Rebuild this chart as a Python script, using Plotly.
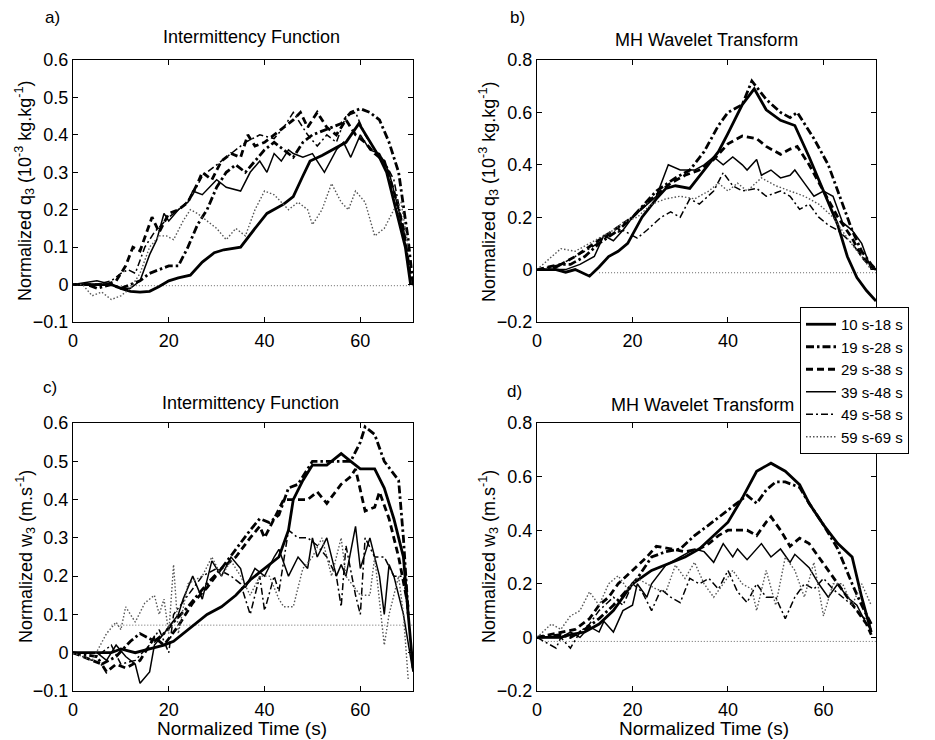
import plotly.graph_objects as go

# ---------------- data ----------------
SERIES_NAMES = ["10 s-18 s", "19 s-28 s", "29 s-38 s", "39 s-48 s", "49 s-58 s", "59 s-69 s"]

# Panel a) q3, Intermittency Function
A1_X = [0, 4, 8, 10, 12, 14, 16, 18, 20, 22, 24.5, 27, 29.5, 31.5, 35, 38, 40.5, 44, 46, 48, 49.5, 52, 55, 57, 59.7, 62, 64, 65.5, 67.5, 69.4, 70.5]
A1_Y = [0, 0, 0, -0.01, -0.018, -0.02, -0.018, -0.005, 0.01, 0.018, 0.025, 0.06, 0.085, 0.093, 0.1, 0.15, 0.19, 0.215, 0.235, 0.29, 0.33, 0.345, 0.365, 0.38, 0.43, 0.38, 0.34, 0.3, 0.2, 0.1, 0.0]
A2_X = [0, 3, 5, 8, 10, 12, 14, 16, 18, 20, 22, 24, 26, 28, 30, 32, 34, 36, 38, 40, 42, 44, 46, 48, 50, 52, 54, 56, 58, 60, 62, 64, 66, 68, 70, 71]
A2_Y = [0, 0, -0.01, 0, -0.01, 0, 0.01, 0.03, 0.04, 0.05, 0.05, 0.1, 0.16, 0.2, 0.26, 0.3, 0.32, 0.3, 0.33, 0.36, 0.38, 0.36, 0.34, 0.38, 0.4, 0.41, 0.42, 0.43, 0.46, 0.47, 0.46, 0.44, 0.38, 0.3, 0.12, 0.0]
A3_X = [0, 4, 7, 9, 11, 12.5, 14, 16.5, 18, 20, 22, 24, 26, 27, 29, 31, 33, 35, 36.5, 38, 40, 42, 44, 46, 47.5, 49, 51, 53, 55, 57, 59, 61, 63, 65, 67, 69, 70.5]
A3_Y = [0, 0, 0, 0.01, 0.05, 0.1, 0.09, 0.18, 0.14, 0.19, 0.2, 0.22, 0.27, 0.3, 0.28, 0.33, 0.35, 0.34, 0.4, 0.37, 0.38, 0.4, 0.42, 0.44, 0.46, 0.42, 0.46, 0.42, 0.4, 0.44, 0.4, 0.38, 0.35, 0.33, 0.25, 0.15, 0.02]
A4_X = [0, 5, 8, 10, 12, 14, 16, 17.5, 19, 20, 22, 24, 25, 27, 30, 32, 35, 37, 39, 40.5, 42, 43.5, 45, 46, 48, 50, 52.5, 55, 56.5, 58, 60, 62, 64, 66, 68, 69.5, 70.5]
A4_Y = [0, 0.01, 0, -0.01, -0.01, 0.01, 0.08, 0.12, 0.19, 0.17, 0.2, 0.22, 0.25, 0.24, 0.28, 0.26, 0.25, 0.3, 0.33, 0.3, 0.35, 0.33, 0.36, 0.35, 0.34, 0.35, 0.3, 0.36, 0.38, 0.34, 0.4, 0.36, 0.35, 0.3, 0.2, 0.1, 0.01]
A5_X = [0, 5, 8, 10, 11.5, 13, 15, 17, 20, 23, 25, 27, 30, 33, 36, 39, 42, 44, 46, 49, 51, 53, 55, 57, 59, 61, 63, 65, 67, 69, 70.5]
A5_Y = [0, 0, 0.01, 0.03, 0.04, 0.03, 0.1, 0.14, 0.18, 0.21, 0.24, 0.29, 0.32, 0.35, 0.38, 0.4, 0.39, 0.42, 0.46, 0.4, 0.37, 0.4, 0.38, 0.45, 0.46, 0.4, 0.36, 0.33, 0.28, 0.15, 0.03]
A6_X = [0, 2, 4, 6, 8, 10, 12, 14, 16, 18, 19.5, 21, 23, 24.5, 26, 28, 30, 32, 34, 36, 38, 40, 42, 45, 47, 49, 50, 52, 54, 56, 57.5, 59, 61, 63, 65, 67, 68.5, 70]
A6_Y = [0, 0, -0.03, -0.02, -0.04, -0.03, -0.01, 0.03, 0.1, 0.13, 0.13, 0.12, 0.17, 0.2, 0.19, 0.17, 0.15, 0.12, 0.15, 0.13, 0.2, 0.25, 0.24, 0.2, 0.22, 0.2, 0.16, 0.2, 0.27, 0.22, 0.2, 0.25, 0.22, 0.13, 0.15, 0.2, 0.22, 0.1]

# Panel b) q3, MH Wavelet Transform
B1_X = [0, 4, 6, 8, 11, 13, 15, 17, 19, 22, 25, 27, 29, 32, 35, 38, 40, 43, 45.5, 48, 51, 54, 57, 60, 63, 65, 67, 69, 71]
B1_Y = [0, 0, -0.01, 0, -0.025, 0.01, 0.05, 0.07, 0.1, 0.2, 0.27, 0.31, 0.32, 0.31, 0.38, 0.45, 0.52, 0.63, 0.69, 0.61, 0.57, 0.55, 0.43, 0.3, 0.17, 0.05, -0.03, -0.08, -0.12]
B2_X = [0, 3, 5, 7, 10, 13, 17, 20, 25, 29, 32, 35, 38, 40, 43, 45, 48, 51, 53, 54.5, 58, 61, 63, 66, 68, 70, 71]
B2_Y = [0, 0, 0.02, 0.02, 0.05, 0.1, 0.15, 0.2, 0.3, 0.35, 0.38, 0.45, 0.55, 0.6, 0.63, 0.72, 0.65, 0.6, 0.58, 0.6, 0.5, 0.4, 0.3, 0.15, 0.07, 0.02, 0.0]
B3_X = [0, 5, 8, 12, 16, 20, 24, 28, 31, 34, 37, 40, 43, 46, 48, 51, 53, 54.5, 57, 60, 63, 66, 68, 70, 71]
B3_Y = [0, 0.02, 0.05, 0.1, 0.15, 0.2, 0.27, 0.33, 0.36, 0.38, 0.42, 0.48, 0.51, 0.5, 0.47, 0.44, 0.46, 0.47, 0.4, 0.3, 0.2, 0.12, 0.05, 0.01, 0.0]
B4_X = [0, 6, 9, 12, 14, 16, 18, 20, 25, 27.5, 30, 33, 35, 37, 39, 41, 43, 44, 46, 47, 49, 51, 53, 54, 56, 58, 60, 62, 64, 66, 68, 70]
B4_Y = [0, 0, 0.02, 0.05, 0.13, 0.11, 0.15, 0.2, 0.28, 0.4, 0.38, 0.38, 0.4, 0.43, 0.4, 0.43, 0.4, 0.38, 0.42, 0.36, 0.38, 0.35, 0.36, 0.38, 0.33, 0.28, 0.3, 0.28, 0.18, 0.15, 0.1, 0.0]
B5_X = [0, 5, 8, 11, 15, 18, 21, 23, 26, 28, 30, 32, 34, 37, 39, 41, 43, 46, 48, 51, 53, 55, 57, 59, 61, 63, 66, 68, 71]
B5_Y = [0, 0.02, 0.05, 0.08, 0.13, 0.15, 0.12, 0.15, 0.2, 0.22, 0.2, 0.27, 0.25, 0.3, 0.37, 0.32, 0.3, 0.31, 0.28, 0.3, 0.28, 0.23, 0.25, 0.2, 0.17, 0.15, 0.1, 0.05, 0.0]
B6_X = [0, 3, 5, 8, 11, 14, 16, 18, 21, 24, 27, 30, 33, 36, 38, 40, 42, 44, 47, 50, 53, 56, 59, 62, 65, 68, 70]
B6_Y = [0, 0.05, 0.08, 0.07, 0.1, 0.13, 0.15, 0.18, 0.2, 0.25, 0.27, 0.28, 0.27, 0.3, 0.33, 0.3, 0.33, 0.3, 0.35, 0.32, 0.3, 0.28, 0.25, 0.2, 0.12, 0.05, 0.0]

# Panel c) w3, Intermittency Function
C1_X = [0, 8, 10, 13, 16, 19, 21, 24, 28, 31, 34, 37, 40, 43, 45, 46, 48, 50, 53, 56, 58, 60, 63, 65, 67, 69, 70, 71]
C1_Y = [0, 0, 0.01, 0, 0.01, 0.02, 0.03, 0.06, 0.1, 0.12, 0.15, 0.19, 0.22, 0.25, 0.32, 0.4, 0.45, 0.49, 0.49, 0.52, 0.5, 0.48, 0.48, 0.43, 0.35, 0.25, 0.1, -0.04]
C2_X = [0, 5, 6, 9, 12, 14, 17, 19, 21, 24, 28, 31, 34, 37, 39, 41, 43, 45, 47, 49, 50, 53, 56, 58, 60, 61, 63, 65, 68, 69, 70]
C2_Y = [0, -0.01, -0.03, -0.01, 0.03, 0.05, 0.03, 0.05, 0.08, 0.12, 0.18, 0.22, 0.27, 0.32, 0.35, 0.34, 0.36, 0.43, 0.44, 0.48, 0.5, 0.5, 0.5, 0.5, 0.55, 0.59, 0.57, 0.5, 0.45, 0.3, 0.1]
C3_X = [0, 6, 7, 9, 11, 14, 17, 19, 22, 25, 28, 31, 34, 37, 39, 40, 42, 44, 47, 49, 51, 53, 56, 58, 59, 61, 63, 64, 66, 68, 70]
C3_Y = [0, -0.03, -0.05, -0.03, -0.04, -0.02, 0.04, 0.02, 0.07, 0.13, 0.17, 0.22, 0.25, 0.3, 0.33, 0.3, 0.35, 0.4, 0.4, 0.4, 0.42, 0.39, 0.44, 0.46, 0.48, 0.37, 0.38, 0.42, 0.35, 0.25, 0.12]
C4_X = [0, 5, 7, 9, 11, 13, 14, 16, 17, 19, 22, 23, 25, 27, 29, 31, 33, 35, 36, 38, 40, 42, 43, 45, 47, 49, 50, 51, 53, 55, 56, 57, 59, 60, 62, 64, 65, 66, 67, 69, 71]
C4_Y = [0, 0, -0.02, 0.02, -0.01, -0.03, -0.08, -0.05, 0.02, 0.05, 0.1, 0.14, 0.2, 0.14, 0.24, 0.2, 0.25, 0.22, 0.17, 0.22, 0.2, 0.25, 0.27, 0.2, 0.25, 0.22, 0.3, 0.25, 0.3, 0.2, 0.23, 0.2, 0.33, 0.22, 0.3, 0.2, 0.1, 0.23, 0.2, 0.1, -0.05]
C5_X = [0, 4, 8, 10, 13, 16, 18, 20, 21, 24, 27, 30, 33, 35, 37, 39, 40, 42, 43, 45, 47, 49, 51, 53, 55, 56, 57, 59, 60, 61, 63, 65, 67, 69, 70]
C5_Y = [0, -0.02, 0.02, -0.03, -0.02, 0.02, 0.06, 0.0, 0.1, 0.15, 0.2, 0.22, 0.2, 0.18, 0.1, 0.2, 0.11, 0.2, 0.16, 0.32, 0.3, 0.3, 0.28, 0.25, 0.2, 0.12, 0.28, 0.15, 0.1, 0.3, 0.25, 0.25, 0.2, 0.2, 0.1]
C6_X = [0, 4, 7, 9, 10, 11, 13, 15, 17, 18, 19, 20, 21, 22, 24, 27, 29, 31, 33, 35, 37, 39, 41, 43, 44, 46, 48, 50, 52, 54, 56, 57, 60, 62, 63, 65, 66, 67, 68, 69, 70]
C6_Y = [0, -0.02, 0.05, 0.08, 0.06, 0.12, 0.08, 0.13, 0.15, 0.1, 0.14, 0.05, 0.23, 0.05, 0.18, 0.2, 0.25, 0.2, 0.24, 0.2, 0.15, 0.2, 0.2, 0.14, 0.12, 0.12, 0.22, 0.25, 0.3, 0.2, 0.3, 0.2, 0.15, 0.15, 0.25, 0.02, 0.1, 0.15, 0.2, 0.1, -0.07]

# Panel d) w3, MH Wavelet Transform
D1_X = [0, 5, 7, 10, 13, 16, 18, 20, 24, 28, 31, 34, 37, 40, 43, 46, 48, 49, 52, 55, 57, 60, 63, 66, 68, 70]
D1_Y = [0, 0, 0.01, 0.02, 0.05, 0.1, 0.15, 0.2, 0.25, 0.28, 0.3, 0.33, 0.38, 0.43, 0.52, 0.62, 0.64, 0.65, 0.62, 0.57, 0.5, 0.42, 0.35, 0.3, 0.15, 0.02]
D2_X = [0, 5, 7, 10, 13, 16, 19, 21, 24, 27, 30, 33, 36, 39, 42, 44, 46, 48, 50, 52, 55, 57, 60, 63, 66, 68, 70]
D2_Y = [0, 0.01, 0, 0.03, 0.07, 0.12, 0.18, 0.22, 0.3, 0.32, 0.33, 0.38, 0.42, 0.46, 0.5, 0.53, 0.5, 0.55, 0.58, 0.58, 0.56, 0.5, 0.42, 0.33, 0.2, 0.12, 0.05]
D3_X = [0, 5, 8, 11, 13, 15, 17, 20, 23, 25, 28, 31, 34, 36, 38, 40, 42, 44, 46, 48, 49, 51, 53, 55, 57, 59, 61, 63, 65, 67, 69, 70]
D3_Y = [0, 0.02, 0.03, 0.07, 0.12, 0.15, 0.2, 0.25, 0.3, 0.34, 0.33, 0.32, 0.33, 0.35, 0.38, 0.4, 0.4, 0.4, 0.38, 0.43, 0.45, 0.4, 0.34, 0.37, 0.35, 0.3, 0.25, 0.2, 0.15, 0.1, 0.05, 0.01]
D4_X = [0, 5, 7, 9, 11, 13, 14, 16, 18, 20, 21, 23, 24, 27, 30, 33, 35, 37, 39, 41, 42, 44, 47, 49, 51, 53, 54, 57, 59, 61, 63, 65, 67, 69, 70]
D4_Y = [0, 0, 0.02, 0, 0.04, 0.02, 0.06, 0.02, 0.1, 0.12, 0.2, 0.15, 0.2, 0.27, 0.3, 0.33, 0.32, 0.28, 0.35, 0.3, 0.33, 0.29, 0.35, 0.3, 0.33, 0.28, 0.31, 0.26, 0.2, 0.15, 0.2, 0.15, 0.12, 0.05, 0.03]
D5_X = [0, 4, 5, 7, 9, 11, 13, 16, 18, 20, 22, 24, 26, 28, 30, 32, 34, 36, 38, 40, 42, 44, 46, 48, 50, 52, 54, 56, 58, 60, 62, 64, 66, 68, 70]
D5_Y = [0, -0.04, 0, -0.04, 0.02, 0.05, 0.1, 0.15, 0.12, 0.2, 0.17, 0.1, 0.18, 0.15, 0.13, 0.22, 0.2, 0.22, 0.18, 0.25, 0.17, 0.13, 0.2, 0.15, 0.15, 0.07, 0.15, 0.2, 0.18, 0.22, 0.18, 0.15, 0.12, 0.08, 0.05]
D6_X = [0, 3, 5, 7, 9, 11, 13, 15, 17, 19, 21, 23, 25, 27, 29, 31, 33, 35, 37, 39, 41, 43, 45, 46, 48, 50, 52, 54, 56, 58, 60, 62, 64, 66, 68, 70]
D6_Y = [0, 0.05, 0.03, 0.08, 0.1, 0.17, 0.12, 0.2, 0.23, 0.18, 0.22, 0.2, 0.18, 0.17, 0.27, 0.22, 0.28, 0.2, 0.15, 0.2, 0.25, 0.2, 0.18, 0.1, 0.25, 0.12, 0.3, 0.25, 0.15, 0.28, 0.08, 0.2, 0.2, 0.12, 0.2, 0.12]

# horizontal dotted threshold lines (value, start x, end x)
THRESH_A = [-0.003, 10, 71]
THRESH_B = [-0.012, 13, 71]
THRESH_C = [0.072, 8, 71]
THRESH_D = [-0.015, 1, 71]

PANEL_LABELS = ["a)", "b)", "c)", "d)"]
PANEL_TITLES = ["Intermittency Function", "MH Wavelet Transform", "Intermittency Function", "MH Wavelet Transform"]
YTITLE_Q = "Normalized q<sub>3</sub> (10<sup>-3</sup> kg.kg<sup>-1</sup>)"
YTITLE_W = "Normalized w<sub>3</sub> (m.s<sup>-1</sup>)"
XTITLE = "Normalized Time (s)"

# ---------------- styles ----------------
FONT = "Arial, Liberation Sans, Helvetica, sans-serif"
STYLES = [
    dict(color="black", width=2.8, dash="solid"),
    dict(color="black", width=2.8, dash="8px,3px,2.5px,3px"),
    dict(color="black", width=2.8, dash="7px,4px"),
    dict(color="black", width=1.5, dash="solid"),
    dict(color="black", width=1.5, dash="7px,3px,2px,3px"),
    dict(color="#555555", width=1.4, dash="1.5px,2px"),
]

W, H = 935, 740
def px2x(p):
    return p / W
def px2y(p):
    return 1 - p / H

XDOM_L = [px2x(73), px2x(413)]
XDOM_R = [px2x(537), px2x(876)]
YDOM_T = [px2y(322), px2y(60)]
YDOM_B = [px2y(691), px2y(423)]

fig = go.Figure()

panels = [
    ("x", "y", [(A1_X, A1_Y), (A2_X, A2_Y), (A3_X, A3_Y), (A4_X, A4_Y), (A5_X, A5_Y), (A6_X, A6_Y)], THRESH_A),
    ("x2", "y2", [(B1_X, B1_Y), (B2_X, B2_Y), (B3_X, B3_Y), (B4_X, B4_Y), (B5_X, B5_Y), (B6_X, B6_Y)], THRESH_B),
    ("x3", "y3", [(C1_X, C1_Y), (C2_X, C2_Y), (C3_X, C3_Y), (C4_X, C4_Y), (C5_X, C5_Y), (C6_X, C6_Y)], THRESH_C),
    ("x4", "y4", [(D1_X, D1_Y), (D2_X, D2_Y), (D3_X, D3_Y), (D4_X, D4_Y), (D5_X, D5_Y), (D6_X, D6_Y)], THRESH_D),
]

for pi, (xa, ya, series, th) in enumerate(panels):
    fig.add_trace(go.Scatter(x=[th[1], th[2]], y=[th[0], th[0]], mode="lines", xaxis=xa, yaxis=ya,
                             line=dict(color="#666666", width=1, dash="1px,2px"), showlegend=False,
                             hoverinfo="skip"))
    for si, (sx, sy) in enumerate(series):
        fig.add_trace(go.Scatter(x=sx, y=sy, mode="lines", xaxis=xa, yaxis=ya,
                                 name=SERIES_NAMES[si], legendgroup=SERIES_NAMES[si],
                                 showlegend=(pi == 0), line=STYLES[si]))

def xaxis(dom, anchor):
    return dict(domain=dom, anchor=anchor, range=[0, 71], tickvals=[0, 20, 40, 60],
                ticks="inside", ticklen=5, tickcolor="black", showline=True, linecolor="black",
                linewidth=1, mirror="ticks", showgrid=False, zeroline=False, automargin=False,
                ticklabelstandoff=2,
                tickfont=dict(family=FONT, size=18, color="black"))

def yaxis(dom, anchor, rng, dtick):
    return dict(domain=dom, anchor=anchor, range=rng, dtick=dtick, tick0=0,
                ticks="inside", ticklen=5, tickcolor="black", showline=True, linecolor="black",
                linewidth=1, mirror="ticks", showgrid=False, zeroline=False, automargin=False,
                tickfont=dict(family=FONT, size=18, color="black"))

fig.update_layout(
    template="none",
    width=W, height=H, margin=dict(l=0, r=0, t=0, b=0, pad=0, autoexpand=False),
    paper_bgcolor="white", plot_bgcolor="white",
    font=dict(family=FONT, size=16, color="black"),
    xaxis=xaxis(XDOM_L, "y"), yaxis=yaxis(YDOM_T, "x", [-0.1, 0.6], 0.1),
    xaxis2=xaxis(XDOM_R, "y2"), yaxis2=yaxis(YDOM_T, "x2", [-0.2, 0.8], 0.2),
    xaxis3=xaxis(XDOM_L, "y3"), yaxis3=yaxis(YDOM_B, "x3", [-0.1, 0.6], 0.1),
    xaxis4=xaxis(XDOM_R, "y4"), yaxis4=yaxis(YDOM_B, "x4", [-0.2, 0.8], 0.2),
    showlegend=True,
    legend=dict(x=px2x(800), y=px2y(307), xanchor="left", yanchor="top",
                bgcolor="white", bordercolor="black", borderwidth=1,
                font=dict(family=FONT, size=15, color="black"),
                tracegroupgap=0, itemwidth=30),
)

ann = []
def add_text(text, x, y, size, angle=0):
    ann.append(dict(text=text, x=px2x(x), y=px2y(y), xref="paper", yref="paper",
                    xanchor="center", yanchor="middle", textangle=angle,
                    showarrow=False, font=dict(family=FONT, size=size, color="black")))

label_pos = [(52, 18), (517, 18), (50, 387), (514, 391)]
for lab, (lx, ly) in zip(PANEL_LABELS, label_pos):
    add_text(lab, lx, ly, 17)
title_pos = [(251, 37), (706, 40), (250, 403), (702, 405)]
for t, (tx, ty) in zip(PANEL_TITLES, title_pos):
    add_text(t, tx, ty, 18)
ytitle_pos = [(YTITLE_Q, 25, 191), (YTITLE_Q, 489, 191), (YTITLE_W, 25, 557), (YTITLE_W, 488, 557)]
for t, tx, ty in ytitle_pos:
    add_text(t, tx, ty, 18, -90)
for tx in [242, 704]:
    add_text(XTITLE, tx, 728, 19)
fig.update_layout(annotations=ann)

fig.write_html("out.html", config={"displayModeBar": False},
               post_script="document.body.style.margin='0px';document.body.style.padding='0px';")
